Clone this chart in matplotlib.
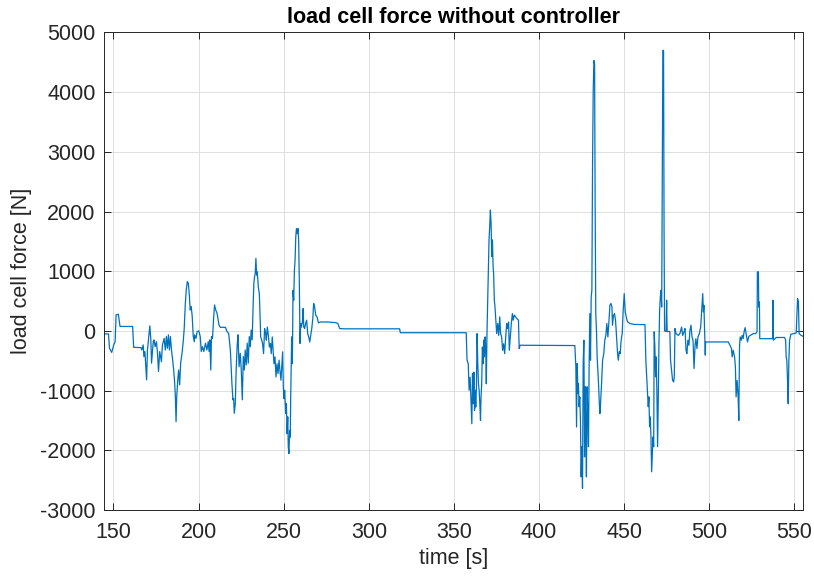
import numpy as np
import matplotlib
matplotlib.use('Agg')
import matplotlib.pyplot as plt

# load cell force log, read in (time [s], force [N]) pairs
time_s = [
    144.5, 147.1, 147.7, 149.0, 150.2, 151.0, 151.6, 152.9, 153.9, 161.3, 161.9, 166.2, 166.7, 167.5, 167.9,
    168.5, 169.5, 170.0, 170.8, 171.4, 172.0, 172.4, 173.4, 173.9, 174.5, 175.3, 175.9, 176.5, 177.2, 178.2,
    178.8, 179.8, 180.5, 181.1, 181.7, 182.3, 182.9, 183.5, 184.2, 184.8, 185.4, 186.0, 186.4, 186.8, 187.2,
    187.8, 188.3, 188.9, 189.5, 190.3, 191.1, 191.6, 192.2, 192.8, 193.4, 194.0, 194.6, 195.1, 195.7, 196.3,
    196.9, 197.5, 197.7, 198.5, 199.2, 200.2, 201.0, 201.6, 202.3, 203.1, 204.1, 204.9, 205.7, 206.2, 206.6,
    207.2, 207.6, 208.2, 208.8, 209.4, 210.1, 210.9, 212.0, 212.8, 215.8, 216.7, 217.7, 218.7, 219.6, 220.2,
    220.6, 221.0, 221.6, 222.1, 222.7, 223.2, 223.8, 224.5, 225.1, 225.7, 226.3, 226.9, 227.4, 228.0, 228.6,
    229.2, 229.8, 230.4, 230.9, 231.5, 232.1, 232.5, 232.9, 233.3, 233.7, 234.1, 234.5, 235.1, 235.7, 236.1,
    236.5, 237.1, 237.6, 238.2, 238.8, 239.4, 239.8, 240.4, 241.0, 241.6, 242.2, 242.7, 243.3, 243.7, 244.3,
    244.9, 245.5, 246.1, 246.7, 247.3, 247.8, 248.4, 249.0, 249.4, 249.8, 250.2, 250.6, 251.2, 251.6, 252.0,
    252.4, 252.7, 253.1, 253.5, 253.9, 254.1, 254.5, 254.7, 255.1, 255.5, 255.9, 256.3, 256.7, 257.1, 257.5,
    258.0, 258.4, 258.8, 259.2, 259.6, 260.0, 260.4, 261.0, 261.4, 261.8, 262.3, 262.9, 263.5, 264.1, 264.7,
    265.3, 265.9, 266.5, 267.1, 267.6, 268.2, 268.8, 269.6, 270.4, 271.6, 275.5, 280.4, 281.8, 282.9, 285.3,
    318.1, 318.5, 357.2,
    357.7, 358.4, 358.9, 359.5, 360.1, 360.5, 360.9, 361.3, 361.7, 362.1, 362.5, 362.8, 363.2, 363.6, 364.0,
    364.4, 364.8, 365.2, 365.6, 365.9, 366.3, 366.7, 367.1, 367.5, 367.9, 368.3, 368.7, 369.0, 369.4, 369.8,
    370.2, 370.6, 371.0, 371.4, 371.8, 372.2, 372.6, 373.0, 373.3, 373.7, 374.1, 374.5, 375.1, 375.7, 376.3,
    376.9, 377.4, 378.0, 378.6, 379.2, 379.8, 380.4, 381.0, 381.5, 382.1, 382.5, 383.1, 383.7, 384.3, 384.8,
    385.4, 386.2, 387.0, 387.9, 388.3, 388.9, 421.0,
    421.6, 422.0, 422.4, 422.8, 423.1, 423.5, 423.9, 424.3, 424.7, 425.1, 425.5, 425.9, 426.3, 426.7, 427.1,
    427.5, 427.8, 428.2, 428.6, 429.0, 429.4, 429.8, 430.2, 430.6, 431.0, 431.4, 431.8, 432.2, 432.6, 432.9,
    433.3, 433.7, 434.1, 434.9, 435.3, 435.7, 436.1, 436.7, 437.3, 438.0, 438.6, 439.2, 439.8, 440.4, 441.0,
    441.6, 442.2, 442.8, 443.1, 443.7, 444.3, 444.9, 445.5, 446.1, 446.5, 447.1, 447.6, 448.2, 448.8, 449.4,
    450.0, 450.6, 451.4, 452.0, 453.3, 455.3, 462.2, 462.7, 463.5, 464.1, 464.5, 464.9, 465.3, 465.7, 466.1,
    466.5, 466.9, 467.3, 467.6, 468.0, 468.4, 468.8, 469.2, 469.6, 470.0, 470.4, 470.8, 471.2, 471.6, 472.0,
    472.4, 472.7, 473.1, 473.4, 473.7, 474.6, 474.9, 475.2, 476.8, 477.2, 478.4, 479.0, 479.4, 479.8, 480.4,
    481.8, 482.7, 483.7, 484.3, 485.1, 485.7, 486.3, 486.8, 487.4, 488.0, 488.6, 489.2, 489.8, 490.4, 491.0,
    491.6, 492.1, 492.7, 493.3, 494.1, 494.9, 495.5, 496.1, 496.5, 496.8, 497.2, 497.6, 497.8, 511.1, 512.1,
    513.0, 513.4, 514.0, 514.8, 515.3, 515.7, 516.3, 516.9, 517.3, 517.7, 518.1, 518.7, 519.3, 519.8, 520.4,
    521.0, 521.6, 522.4, 523.2, 524.1, 525.7, 527.2, 528.0, 528.2, 528.8, 529.0, 529.4, 529.6, 537.2, 537.4,
    537.6, 539.3, 544.2, 544.8, 545.1, 545.5, 545.9, 546.3, 546.7, 547.1, 547.9, 551.0, 551.4, 551.8, 552.3,
    552.7, 553.9, 555.0,
]

force_n = [
    -50, -50, -290, -360, -235, -180, 270, 280, 75, 75, -275, -280, -320, -235, -430,
    -345, -820, -320, -95, 85, -150, -540, -180, -150, -265, -180, -375, -680, -345, -515,
    -235, -125, -320, -95, -290, -65, -320, -95, -345, -485, -655, -880, -1100, -1520, -1100,
    -820, -655, -905, -540, -375, -150, 45, 435, 690, 825, 800, 605, 350, 410, 240,
    -95, -180, -65, -125, -10, 0, -95, -345, -265, -345, -205, -320, -180, -345, -150,
    -655, -95, -125, 185, 435, 350, 295, 100, 60, 60, -10, -40, -320, -880, -1155,
    -1130, -1380, -1215, -655, -235, -65, -600, -375, -655, -1155, -430, -655, -320, -570, -205,
    -540, -95, -265, 15, -150, 465, 800, 910, 960, 1215, 935, 990, 740, 625, 290,
    -100, -155, -210, -380, 40, -45, -155, 65, -75, -270, -210, -380, -100, -270, -550,
    -435, -770, -550, -715, -490, -660, -825, -550, -350, -940, -1135, -995, -1385, -1220, -1720,
    -1440, -1945, -2055, -1665, -1780, -1160, -490, -100, -550, 680, 515, 1015, 1185, 1575, 1715,
    1630, 1715, 1520, 795, -210, 125, 65, 150, 375, 65, 40, 125, 180, -45, -100,
    -185, -75, 40, 205, 460, 400, 265, 235, 135, 150, 150, 140, 125, 40, 35,
    35, -30, -30,
    -490, -550, -995, -775, -1220, -1555, -715, -1220, -690, -1330, -995, -1275, -940, -45, -550,
    -885, -995, -1220, -1500, -1110, -885, -270, -550, -155, -435, -100, -325, -885, -45, 460,
    965, 1525, 1745, 2025, 1805, 1245, 1525, 1075, 965, 515, 405, 235, -45, 125, -75,
    235, -45, -100, -325, -215, -380, -100, 125, 40, 150, -325, -100, 125, 290, 180,
    265, 235, 205, 180, -295, -240, -245,
    -600, -1610, -545, -1050, -880, -1270, -1105, -1495, -2445, -1940, -2640, -545, -155, -2110, -935,
    -1665, -2445, -935, -1385, -1940, -545, 290, -490, 570, 680, 2800, 4030, 4530, 4475, 2245,
    290, 10, -435, -880, -1160, -1385, -1215, -880, -490, -380, -155, -75, 125, -100, 150,
    430, 460, 400, 95, 260, 290, 180, -100, -380, -490, -350, -380, -155, -45, 345,
    625, 320, 205, 150, 125, 110, 105, -490, -940, -1270, -1105, -1605, -1440, -1775, -2360,
    -2055, -1775, -1940, -15, -270, -770, -435, -1050, -1940, -1160, -210, 345, 570, 680, 400,
    2800, 4700, 4700, 1685, 0, -10, 515, -10, -10, -490, -825, -855, -770, 40, -45,
    -75, -45, 65, -75, -15, 40, -325, -380, -155, -240, 10, 95, -100, -155, -630,
    -240, -130, -295, -100, -45, 65, 345, 625, 320, 430, 10, -405, -185, -185, -240,
    -295, -435, -325, -435, -605, -1105, -830, -1105, -1500, -270, -100, -155, -75, -130, -15,
    55, -45, -185, -90, -75, -45, -45, -15, 990, 990, 400, 485, -130, -130, 515,
    -155, -110, -110, -155, -435, -490, -825, -1220, -490, -155, -55, -35, 235, 540, 485,
    -45, -75, -90,
]

x_ticks = [150, 200, 250, 300, 350, 400, 450, 500, 550]
y_ticks = [-3000, -2000, -1000, 0, 1000, 2000, 3000, 4000, 5000]

plt.rcParams['font.family'] = ['Liberation Sans', 'DejaVu Sans']

fig = plt.figure(figsize=(8.14, 5.79), dpi=100)
ax = fig.add_axes([0.1278, 0.1192, 0.8587, 0.8247])

ax.plot(time_s, force_n, color='#0072BD', linewidth=0.9)

ax.set_xlim(144.5, 555)
ax.set_ylim(-3000, 5000)
ax.set_xticks(x_ticks)
ax.set_yticks(y_ticks)
ax.set_xticklabels([str(v) for v in x_ticks])
ax.set_yticklabels([str(v) for v in y_ticks])

ax.grid(True, color='#dedede', linewidth=0.7)
ax.set_axisbelow(True)
for s in ax.spines.values():
    s.set_color('#262626')
    s.set_linewidth(0.7)
ax.tick_params(direction='in', top=True, right=True, length=5, width=0.7,
               colors='#262626', labelsize=15.5)
ax.tick_params(axis='x', pad=9)
ax.tick_params(axis='y', pad=6)

ax.set_title('load cell force without controller', fontsize=15.5, fontweight='bold', pad=7)
ax.set_xlabel('time [s]', fontsize=15.5, color='#262626', labelpad=3)
ax.set_ylabel('load cell force [N]', fontsize=15.5, color='#262626', labelpad=6)

plt.savefig('out.png', dpi=100)
